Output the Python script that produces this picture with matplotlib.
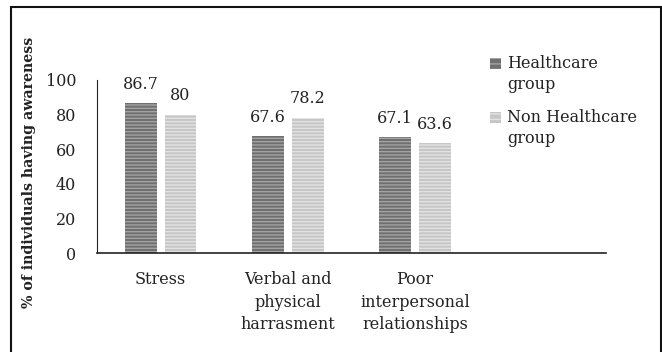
import matplotlib
matplotlib.use("Agg")
import matplotlib.pyplot as plt
from matplotlib.patches import Rectangle
import numpy as np

categories = ["Stress", "Verbal and\nphysical\nharrasment", "Poor\ninterpersonal\nrelationships", ""]
healthcare = [86.7, 67.6, 67.1]
non_healthcare = [80, 78.2, 63.6]
series_names = ["Healthcare\ngroup", "Non Healthcare\ngroup"]
yticks = [0, 20, 40, 60, 80, 100]

plt.rcParams['hatch.linewidth'] = 1.0
font = ['DejaVu Serif']
fs = 11.5
tc = '#222222'

fig = plt.figure(figsize=(6.62, 3.52), dpi=100)
ax = fig.add_axes([97/662, 1-253/352, (606-97)/662, (253-80)/352])

x = np.arange(3)
w = 0.25
gap = 0.063
dark_face, dark_hatch = "#6f6f6f", "#a3a3a3"
light_face, light_hatch = "#c6c6c6", "#e2e2e2"
styles = [(dark_face, dark_hatch), (light_face, light_hatch)]
b1 = ax.bar(x - (w+gap)/2, healthcare, w, color=dark_face, edgecolor=dark_hatch,
            hatch='-----', linewidth=0, label=series_names[0])
b2 = ax.bar(x + (w+gap)/2, non_healthcare, w, color=light_face, edgecolor=light_hatch,
            hatch='-----', linewidth=0, label=series_names[1])

for bars, vals in ((b1, healthcare), (b2, non_healthcare)):
    for r, v in zip(bars, vals):
        ax.annotate(f"{v:g}", (r.get_x() + r.get_width()/2, v), xytext=(0, 7.5),
                    textcoords='offset points', ha='center', va='bottom',
                    fontsize=fs, family=font, color=tc)

ax.set_xlim(-0.5, 3.5)
ax.set_ylim(0, 100)
ax.set_xticks(np.arange(4))
ax.set_xticklabels(categories, family=font, fontsize=fs, color=tc, linespacing=1.42)
ax.set_yticks(yticks)
ax.set_yticklabels([str(t) for t in yticks], family=font, fontsize=fs, color=tc)
ax.tick_params(axis='y', length=0, pad=15)
ax.tick_params(axis='x', length=0, pad=13)
for s in ('top', 'right'):
    ax.spines[s].set_visible(False)
ax.spines['left'].set_color(tc)
ax.spines['bottom'].set_color(tc)
ax.spines['bottom'].set_linewidth(1.2)

fig.text(29/662, 1-172/352, "% of individuals having awareness", rotation=90,
         ha='center', va='center', fontsize=10.2, fontweight='bold', family=font, color=tc)

# legend: marker aligned with first line of each label
first_line_y = [63, 117]
for (face, hatch), name, yc in zip(styles, series_names, first_line_y):
    fig.patches.append(Rectangle((490/662, 1-(yc+6)/352), 11/662, 11/352, transform=fig.transFigure,
                                 facecolor=face, edgecolor=hatch, hatch='---', linewidth=0))
    fig.text(507/662, 1-(yc+11)/352, name, ha='left', va='center', fontsize=fs, family=font,
             color=tc, linespacing=1.38)

fig.patches.append(Rectangle((11/662, -0.05), 650/662, 1.05-7/352, transform=fig.transFigure,
                             fill=False, edgecolor='#111111', linewidth=1.5))

fig.savefig("out.png", dpi=100)
